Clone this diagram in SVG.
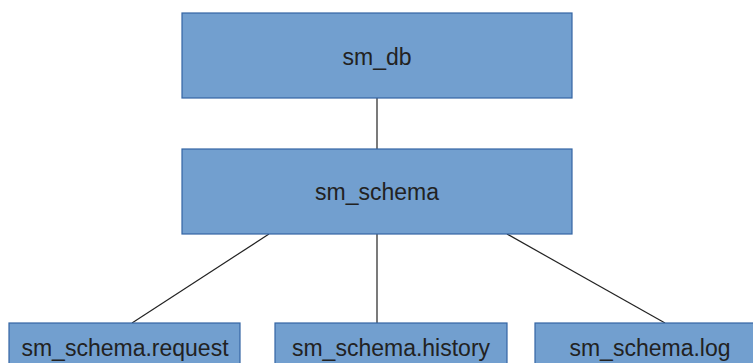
<svg xmlns="http://www.w3.org/2000/svg" width="753" height="363" viewBox="0 0 753 363">
<style>
.box{fill:#729fcf;stroke:#3465a4;stroke-width:1.2}
.lbl{font-family:"Liberation Sans",Arial,sans-serif;font-size:23px;fill:#222;text-anchor:middle}
.con{stroke:#222;stroke-width:1.2;fill:none}
</style>
<rect width="753" height="363" fill="#fff"/>
<g id="connectors">
<line class="con" x1="377" y1="98" x2="377" y2="149"/>
<line class="con" x1="269" y1="234" x2="132" y2="323"/>
<line class="con" x1="377" y1="234" x2="377" y2="323"/>
<line class="con" x1="507" y1="234" x2="665" y2="323"/>
</g>
<g id="sm_db"><rect class="box" x="182" y="13" width="390" height="85"/><text class="lbl" x="377" y="65">sm_db</text></g>
<g id="sm_schema"><rect class="box" x="182" y="149" width="390" height="85"/><text class="lbl" x="377" y="200">sm_schema</text></g>
<g id="sm_schema_request"><rect class="box" x="9" y="323" width="231" height="50"/><text class="lbl" x="125" y="356">sm_schema.request</text></g>
<g id="sm_schema_history"><rect class="box" x="275" y="323" width="232" height="50"/><text class="lbl" x="391" y="356">sm_schema.history</text></g>
<g id="sm_schema_log"><rect class="box" x="535" y="323" width="230" height="50"/><text class="lbl" x="650" y="356">sm_schema.log</text></g>
</svg>
